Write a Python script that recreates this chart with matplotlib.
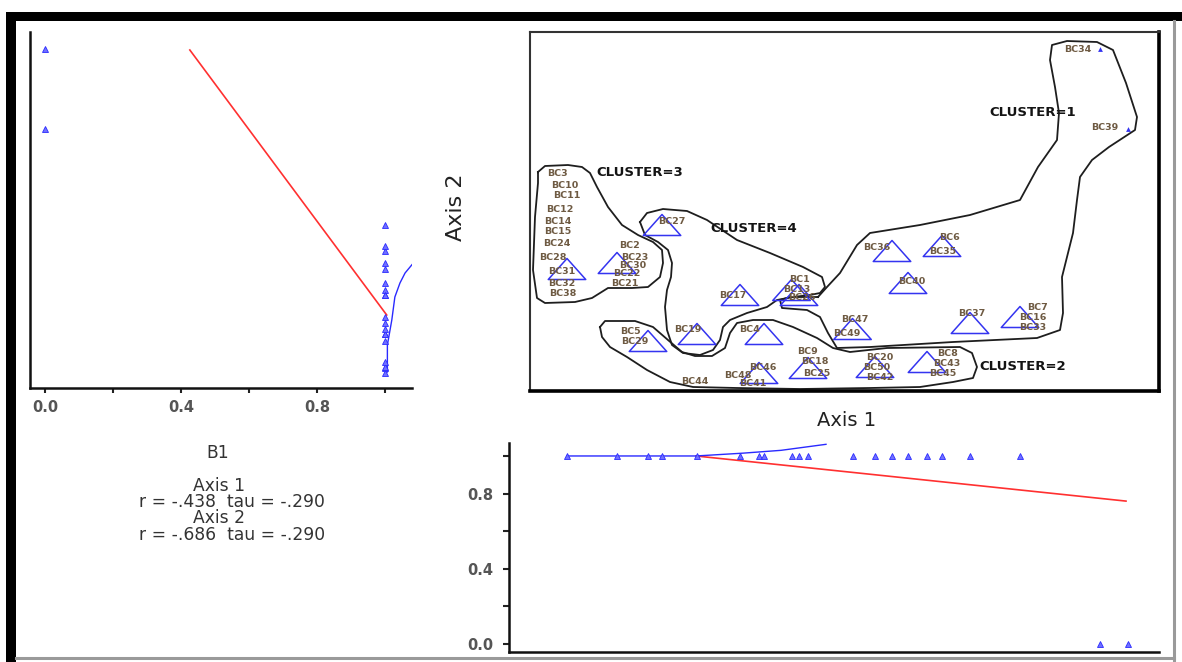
import numpy as np
import matplotlib
matplotlib.use("Agg")
import matplotlib.pyplot as plt
from matplotlib.path import Path
from matplotlib.patches import Rectangle
from matplotlib.lines import Line2D

W, H, DPI = 1182, 662, 100

# ---------------- data (ordination scores) ----------------
point_names = ["BC31", "BC2", "BC5", "BC27", "BC19", "BC17", "BC46", "BC4", "BC1", "BC13",
               "BC9", "BC47", "BC20", "BC36", "BC40", "BC8", "BC6", "BC37", "BC7", "BC34", "BC39"]
axis1 = [0.37, 0.87, 1.18, 1.32, 1.67, 2.10, 2.29, 2.34, 2.615, 2.69,
         2.78, 3.225, 3.45, 3.62, 3.78, 3.97, 4.12, 4.40, 4.90, 5.70, 5.98]
axis2 = [1.22, 1.28, 0.50, 1.66, 0.57, 0.96, 0.18, 0.57, 1.01, 0.96,
         0.23, 0.62, 0.24, 1.40, 1.08, 0.29, 1.45, 0.68, 0.74, 3.42, 2.62]
b1 = [1, 1, 1, 1, 1, 1, 1, 1, 1, 1, 1, 1, 1, 1, 1, 1, 1, 1, 1, 0, 0]

label_text = ["BC3", "BC10", "BC11", "BC12", "BC14", "BC15", "BC24", "BC28", "BC31", "BC32", "BC38",
              "BC2", "BC23", "BC30", "BC22", "BC21", "BC27", "BC17", "BC1", "BC13", "BC26",
              "BC5", "BC29", "BC19", "BC4", "BC9", "BC18", "BC25", "BC46", "BC48", "BC41", "BC44",
              "BC36", "BC6", "BC35", "BC40", "BC47", "BC49", "BC20", "BC50", "BC42",
              "BC8", "BC43", "BC45", "BC37", "BC7", "BC16", "BC33", "BC34", "BC39"]
label_a1 = [0.27, 0.35, 0.37, 0.30, 0.28, 0.28, 0.27, 0.23, 0.32, 0.32, 0.33,
            1.00, 1.05, 1.03, 0.97, 0.95, 1.42, 2.03, 2.70, 2.67, 2.72,
            1.00, 1.05, 1.58, 2.20, 2.78, 2.85, 2.87, 2.33, 2.08, 2.23, 1.65,
            3.47, 4.20, 4.13, 3.82, 3.25, 3.17, 3.50, 3.47, 3.50,
            4.18, 4.17, 4.13, 4.42, 5.07, 5.03, 5.03, 5.48, 5.75]
label_a2 = [2.17, 2.06, 1.95, 1.81, 1.70, 1.59, 1.47, 1.34, 1.19, 1.08, 0.97,
            1.45, 1.34, 1.25, 1.17, 1.08, 1.69, 0.95, 1.11, 1.02, 0.93,
            0.59, 0.49, 0.62, 0.62, 0.39, 0.29, 0.18, 0.24, 0.16, 0.07, 0.10,
            1.43, 1.53, 1.40, 1.10, 0.72, 0.58, 0.33, 0.23, 0.14,
            0.38, 0.28, 0.18, 0.78, 0.84, 0.73, 0.63, 3.42, 2.64]

cluster_names = ["CLUSTER=1", "CLUSTER=2", "CLUSTER=3", "CLUSTER=4"]
cluster_a1 = [4.59, 4.49, 0.66, 1.80]
cluster_a2 = [2.79, 0.25, 2.18, 1.63]

# hand-drawn cluster outlines (axis 1 / axis 2 units)
c1_a1 = [2.88, 2.97, 3.10, 3.27, 3.40, 3.90, 4.40, 4.90, 5.08, 5.27, 5.29, 5.25, 5.20, 5.22, 5.37,
         5.67, 5.83, 5.96, 6.07, 6.05, 5.79, 5.62, 5.50, 5.47, 5.43, 5.37, 5.32, 5.33, 5.30, 5.07,
         4.23, 3.40, 3.07, 2.98, 2.90, 2.77, 2.52, 2.50, 2.60, 2.77, 2.88]
c1_a2 = [0.94, 1.04, 1.18, 1.46, 1.58, 1.66, 1.76, 1.91, 2.24, 2.51, 2.78, 3.04, 3.31, 3.46, 3.50,
         3.49, 3.41, 3.08, 2.74, 2.61, 2.44, 2.31, 2.14, 1.91, 1.58, 1.34, 1.14, 0.78, 0.61, 0.53,
         0.49, 0.44, 0.43, 0.58, 0.74, 0.81, 0.83, 0.91, 0.94, 0.94, 0.94]
c2_a1 = [0.70, 0.75, 0.85, 1.05, 1.23, 1.38, 1.52, 1.65, 1.82, 1.95, 2.00, 2.07, 2.23, 2.43, 2.63,
         2.87, 3.03, 3.20, 3.57, 4.30, 4.42, 4.47, 4.43, 4.23, 3.90, 3.40, 2.70, 2.07, 1.63, 1.40,
         1.17, 0.97, 0.80, 0.72, 0.70]
c2_a2 = [0.64, 0.70, 0.70, 0.70, 0.64, 0.51, 0.39, 0.35, 0.35, 0.43, 0.58, 0.68, 0.71, 0.71, 0.64,
         0.53, 0.43, 0.39, 0.43, 0.44, 0.38, 0.24, 0.13, 0.09, 0.04, 0.03, 0.02, 0.03, 0.04, 0.09,
         0.21, 0.34, 0.44, 0.54, 0.64]
c3_a1 = [0.08, 0.15, 0.38, 0.52, 0.60, 0.67, 0.78, 0.92, 1.08, 1.23, 1.32, 1.33, 1.30, 1.18, 1.02,
         0.78, 0.70, 0.62, 0.45, 0.15, 0.07, 0.03, 0.05, 0.08, 0.08]
c3_a2 = [2.19, 2.25, 2.26, 2.24, 2.18, 2.04, 1.84, 1.66, 1.56, 1.49, 1.41, 1.28, 1.14, 1.04, 1.03,
         1.03, 0.98, 0.93, 0.89, 0.88, 0.93, 1.21, 1.74, 2.08, 2.19]
c4_a1 = [1.10, 1.17, 1.33, 1.57, 1.77, 2.07, 2.40, 2.73, 2.92, 2.95, 2.90, 2.80, 2.63, 2.47, 2.37,
         2.17, 2.00, 1.93, 1.90, 1.83, 1.70, 1.53, 1.42, 1.37, 1.35, 1.37, 1.41, 1.42, 1.38, 1.28,
         1.15, 1.10]
c4_a2 = [1.69, 1.78, 1.82, 1.80, 1.71, 1.51, 1.38, 1.24, 1.14, 1.04, 0.98, 0.96, 0.94, 0.91, 0.84,
         0.78, 0.71, 0.64, 0.51, 0.41, 0.36, 0.38, 0.46, 0.61, 0.84, 1.01, 1.14, 1.28, 1.41, 1.49,
         1.56, 1.69]

# fitted lines of the joint plots
left_lin_b1 = [0.426, 1.005]
left_lin_a2 = [3.41, 0.76]
left_smooth_b1 = [1.007, 1.007, 1.02, 1.029, 1.044, 1.059, 1.081]
left_smooth_a2 = [0.19, 0.46, 0.71, 0.94, 1.08, 1.18, 1.27]
bot_lin_a1 = [1.66, 5.96]
bot_lin_b1 = [1.0, 0.76]
bot_smooth_a1 = [0.37, 1.66, 2.13, 2.51, 2.96]
bot_smooth_b1 = [1.0, 1.0, 1.015, 1.03, 1.062]

stats_lines = ["B1", "Axis 1", "r = -.438  tau = -.290", "Axis 2", "r = -.686  tau = -.290"]

# ---------------- figure ----------------
fig = plt.figure(figsize=(W / DPI, H / DPI), dpi=DPI)
fig.patch.set_facecolor("white")


def box(x0, y0, x1, y1):
    """pixel box (top-left origin) -> figure fraction rect"""
    return [x0 / W, 1 - y1 / H, (x1 - x0) / W, (y1 - y0) / H]


BLUE = "#3434f0"
LABEL_C = "#6e5a42"

# main ordination plot
ax = fig.add_axes(box(530, 32, 1159, 391))
ax.set_xlim(0, 6.29)
ax.set_ylim(0, 3.59)
ax.set_xticks([])
ax.set_yticks([])
for s in ["left", "top"]:
    ax.spines[s].set_linewidth(1.5)
    ax.spines[s].set_color("#333333")
for s in ["right", "bottom"]:
    ax.spines[s].set_linewidth(2.6)
    ax.spines[s].set_color("black")

tri = Path([(-1, -0.56), (1, -0.56), (0, 0.56), (-1, -0.56)], closed=True)
a1 = np.array(axis1)
a2 = np.array(axis2)
bb = np.array(b1, dtype=float)
big = bb > 0
ax.scatter(a1[big], a2[big], s=(3 + 24 * bb[big]) ** 2, marker=tri,
           facecolors="none", edgecolors=BLUE, linewidths=1.1, zorder=3)
ax.scatter(a1[~big], a2[~big], s=12, marker="^", color=BLUE, linewidths=0, zorder=3)

for xs, ys in [(c1_a1, c1_a2), (c2_a1, c2_a2), (c3_a1, c3_a2), (c4_a1, c4_a2)]:
    ax.plot(xs, ys, color="#1e1e1e", lw=1.3, solid_joinstyle="round", zorder=2)

for t, x, y in zip(label_text, label_a1, label_a2):
    ax.text(x, y, t, fontsize=6.8, fontweight="bold", color=LABEL_C,
            ha="center", va="center", zorder=4)
for t, x, y in zip(cluster_names, cluster_a1, cluster_a2):
    ax.text(x, y, t, fontsize=9.5, fontweight="bold", color="#141414",
            ha="left", va="center", zorder=4)

# left joint plot: B1 vs Axis 2
axl = fig.add_axes(box(30, 32, 412, 388))
axl.set_xlim(-0.0441, 1.0794)
axl.set_ylim(0.03, 3.59)
axl.plot(b1, axis2, linestyle="none", marker="^", ms=4.6, mfc="#7070ff", mec="#2a2aff",
         mew=0.6, zorder=3)
axl.plot(left_lin_b1, left_lin_a2, color="#ff3030", lw=1.2, zorder=2)
axl.plot(left_smooth_b1, left_smooth_a2, color="#2a2aff", lw=1.0, zorder=2)
for s in ["top", "right"]:
    axl.spines[s].set_visible(False)
for s in ["left", "bottom"]:
    axl.spines[s].set_linewidth(1.8)
    axl.spines[s].set_color("#111111")
axl.set_yticks([])
axl.set_xticks([0.0, 0.4, 0.8])
axl.set_xticklabels(["0.0", "0.4", "0.8"])
axl.set_xticks([0.2, 0.6, 1.0], minor=True)
axl.tick_params(axis="x", which="both", direction="out", length=3.5, width=1.5,
                color="#222222", pad=5)
axl.tick_params(axis="x", which="major", labelsize=10.5, labelcolor="#555555")
for lab in axl.get_xticklabels():
    lab.set_fontweight("bold")

# bottom joint plot: Axis 1 vs B1
axb = fig.add_axes(box(509, 443, 1159, 652))
axb.set_xlim(-0.21, 6.29)
axb.set_ylim(-0.0426, 1.069)
axb.plot(axis1, b1, linestyle="none", marker="^", ms=4.6, mfc="#7070ff", mec="#2a2aff",
         mew=0.6, zorder=3)
axb.plot(bot_lin_a1, bot_lin_b1, color="#ff3030", lw=1.2, zorder=2)
axb.plot(bot_smooth_a1, bot_smooth_b1, color="#2a2aff", lw=1.0, zorder=2)
for s in ["top", "right"]:
    axb.spines[s].set_visible(False)
for s in ["left", "bottom"]:
    axb.spines[s].set_linewidth(1.8)
    axb.spines[s].set_color("#111111")
axb.set_xticks([])
axb.set_yticks([0.0, 0.4, 0.8])
axb.set_yticklabels(["0.0", "0.4", "0.8"])
axb.set_yticks([0.2, 0.6, 1.0], minor=True)
axb.tick_params(axis="y", which="both", direction="out", length=4, width=1.5,
                color="#222222", pad=7)
axb.tick_params(axis="y", which="major", labelsize=10.5, labelcolor="#555555")
for lab in axb.get_yticklabels():
    lab.set_fontweight("bold")

# axis titles
fig.text(847 / W, 1 - 421 / H, "Axis 1", fontsize=14, color="#222222",
         ha="center", va="center")
fig.text(456 / W, 1 - 207 / H, "Axis 2", fontsize=16, color="#222222",
         rotation=90, ha="center", va="center",
         family=["Liberation Sans Narrow", "DejaVu Sans"])

# statistics text under the left plot
stat_y = [453, 486, 502, 518, 535]
stat_x = [218, 219, 232, 219, 232]
for t, x, y in zip(stats_lines, stat_x, stat_y):
    fig.text(x / W, 1 - y / H, t, fontsize=12.3, color="#333333",
             ha="center", va="center")

# outer frame of the screenshot
fig.add_artist(Rectangle((6 / W, 0), 10 / W, 1 - 12 / H, transform=fig.transFigure,
                         color="black", lw=0))
fig.add_artist(Rectangle((6 / W, 1 - 21 / H), 1 - 6 / W, 9 / H, transform=fig.transFigure,
                         color="black", lw=0))
fig.add_artist(Line2D([1174 / W, 1174 / W], [0, 1 - 21 / H], transform=fig.transFigure,
                      color="#9a9a9a", lw=2.2))
fig.add_artist(Line2D([16 / W, 1174 / W], [1 - 658 / H, 1 - 658 / H], transform=fig.transFigure,
                      color="#9a9a9a", lw=2.2))

fig.savefig("out.png", dpi=DPI)
